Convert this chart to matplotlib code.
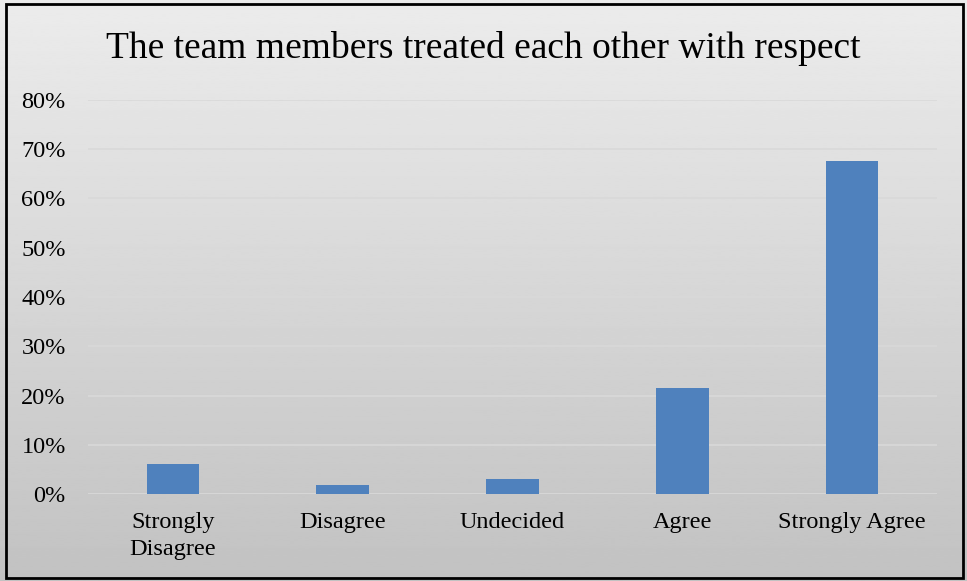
import numpy as np
import matplotlib
matplotlib.use("Agg")
import matplotlib.pyplot as plt
from matplotlib.patches import Rectangle
from matplotlib.ticker import PercentFormatter

categories = ["Strongly\nDisagree", "Disagree", "Undecided", "Agree", "Strongly Agree"]
values = [6.1, 1.8, 3.0, 21.5, 67.6]
yticks = [0, 10, 20, 30, 40, 50, 60, 70, 80]

plt.rcParams['font.family'] = ['Liberation Serif', 'DejaVu Serif']

fig = plt.figure(figsize=(9.67, 5.81), dpi=100)

# gradient background
bg = fig.add_axes([0, 0, 1, 1], zorder=-10)
grad = np.linspace(0.925, 0.76, 256).reshape(-1, 1)
bg.imshow(grad, aspect='auto', cmap='gray', vmin=0, vmax=1, extent=[0, 1, 0, 1])
bg.set_xlim(0, 1)
bg.set_ylim(0, 1)
bg.axis('off')
bg.add_patch(Rectangle((5.5 / 967, 3.5 / 581), 957 / 967, 574 / 581, fill=False,
                       edgecolor='black', linewidth=2, transform=bg.transAxes))

ax = fig.add_axes([88 / 967, 87 / 581, 849 / 967, 394 / 581])
ax.set_facecolor('none')
x = np.arange(len(categories))
ax.bar(x, values, width=0.31, color='#4f81bd', zorder=3)
ax.set_xlim(-0.5, len(categories) - 0.5)
ax.set_ylim(0, 80)
ax.set_yticks(yticks)
ax.yaxis.set_major_formatter(PercentFormatter(decimals=0))
ax.set_xticks(x)
ax.set_xticklabels(categories, fontsize=17.5, linespacing=1.35, va='top')
ax.tick_params(axis='y', labelsize=17.5, length=0, pad=16)
ax.tick_params(axis='x', length=0, pad=13)
ax.grid(axis='y', color='#d9d9d9', linewidth=1.2, zorder=0)
for s in ax.spines.values():
    s.set_visible(False)

fig.text(0.5, 1 - 48 / 581, "The team members treated each other with respect",
         ha='center', va='center', fontsize=27)

fig.savefig("out.png", dpi=100)
